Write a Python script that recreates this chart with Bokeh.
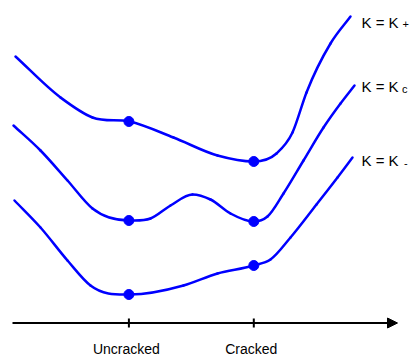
import numpy as np
from bokeh.plotting import figure
from bokeh.models import Range1d, Arrow, NormalHead
from bokeh.core.properties import value
from bokeh.embed import file_html
from bokeh.resources import INLINE

# ---- data (schematic energy curves; x = configuration, y = energy, screen-like units) ----
state_names = ["Uncracked", "Cracked"]
state_x = [128.4, 253.3]

kplus_x = [15, 60, 92, 129, 173, 217, 253, 276, 292, 306, 330, 350]
kplus_y = [56, 97, 117, 121, 137, 155, 161, 153, 132, 92, 43, 16]

kc_x = [13, 40, 67, 92, 129, 150, 170, 192, 210, 230, 253, 267, 283, 303, 323, 340, 354]
kc_y = [125, 150, 180, 208, 220, 218, 205, 194, 199, 213, 221, 216, 193, 160, 127, 103, 85]

kminus_x = [14, 40, 67, 90, 129, 183, 217, 253, 270, 290, 316, 337, 352]
kminus_y = [200, 227, 260, 285, 294, 285, 273, 265, 259, 237, 204, 177, 157]

dot_x = [128.4, 128.4, 128.4, 253.3, 253.3, 253.3]
dot_y = [121, 220, 294, 161, 221, 265]

label_main = ["K = K", "K = K", "K = K"]
label_sub = ["+", "c", "-"]
label_y = [21.7, 86, 159.5]
sub_y = [23.5, 88, 162]

axis_x0, axis_x1, axis_y = 12, 397, 322.5

BLUE = "#0000FF"

p = figure(width=415, height=356, output_backend="svg", toolbar_location=None,
           x_range=Range1d(0, 415), y_range=Range1d(356, 0),
           x_axis_location=None, y_axis_location=None, min_border=0)
p.grid.visible = False
p.outline_line_color = None
p.background_fill_color = "white"


def hermite_bezier(xs, ys):
    x = np.asarray(xs, float)
    y = np.asarray(ys, float)
    h = np.diff(x)
    d = np.diff(y) / h
    n = len(x)
    m = np.zeros(n)
    m[0], m[-1] = d[0], d[-1]
    for k in range(1, n - 1):
        if d[k - 1] * d[k] <= 0:
            m[k] = 0.0
        else:
            m[k] = (h[k] * d[k - 1] + h[k - 1] * d[k]) / (h[k - 1] + h[k])
    return dict(
        x0=x[:-1], y0=y[:-1], x1=x[1:], y1=y[1:],
        cx0=x[:-1] + h / 3, cy0=y[:-1] + m[:-1] * h / 3,
        cx1=x[1:] - h / 3, cy1=y[1:] - m[1:] * h / 3,
    )


for xs, ys in [(kplus_x, kplus_y), (kc_x, kc_y), (kminus_x, kminus_y)]:
    dd = hermite_bezier(xs, ys)
    p.bezier(x0=dd["x0"], y0=dd["y0"], x1=dd["x1"], y1=dd["y1"],
             cx0=dd["cx0"], cy0=dd["cy0"], cx1=dd["cx1"], cy1=dd["cy1"],
             line_color=BLUE, line_width=2.5, line_cap="round")

p.scatter(dot_x, dot_y, size=10, color=BLUE)

# labels
p.text(x=[361] * 3, y=label_y, text=label_main, text_font=value("Liberation Sans"),
       text_font_size="15px", text_color="black", text_baseline="alphabetic", text_align="left")
p.text(x=[402, 401.5, 403.5], y=sub_y, text=label_sub, text_font=value("Liberation Sans"),
       text_font_size="11px", text_color="black", text_baseline="alphabetic", text_align="left")

# horizontal axis with arrow
p.add_layout(Arrow(end=NormalHead(size=10, fill_color="black", line_color="black", line_width=1),
                   x_start=axis_x0, y_start=axis_y, x_end=axis_x1, y_end=axis_y,
                   line_color="black", line_width=2))
p.segment(x0=state_x, y0=[318] * 2, x1=state_x, y1=[327] * 2, line_color="black", line_width=2)
p.text(x=state_x, y=[348.5] * 2, text=state_names, x_offset=-2.5, text_font=value("Liberation Sans"),
       text_font_size="14px", text_color="black", text_baseline="alphabetic", text_align="center")

open("out.html", "w").write(file_html(p, INLINE))
